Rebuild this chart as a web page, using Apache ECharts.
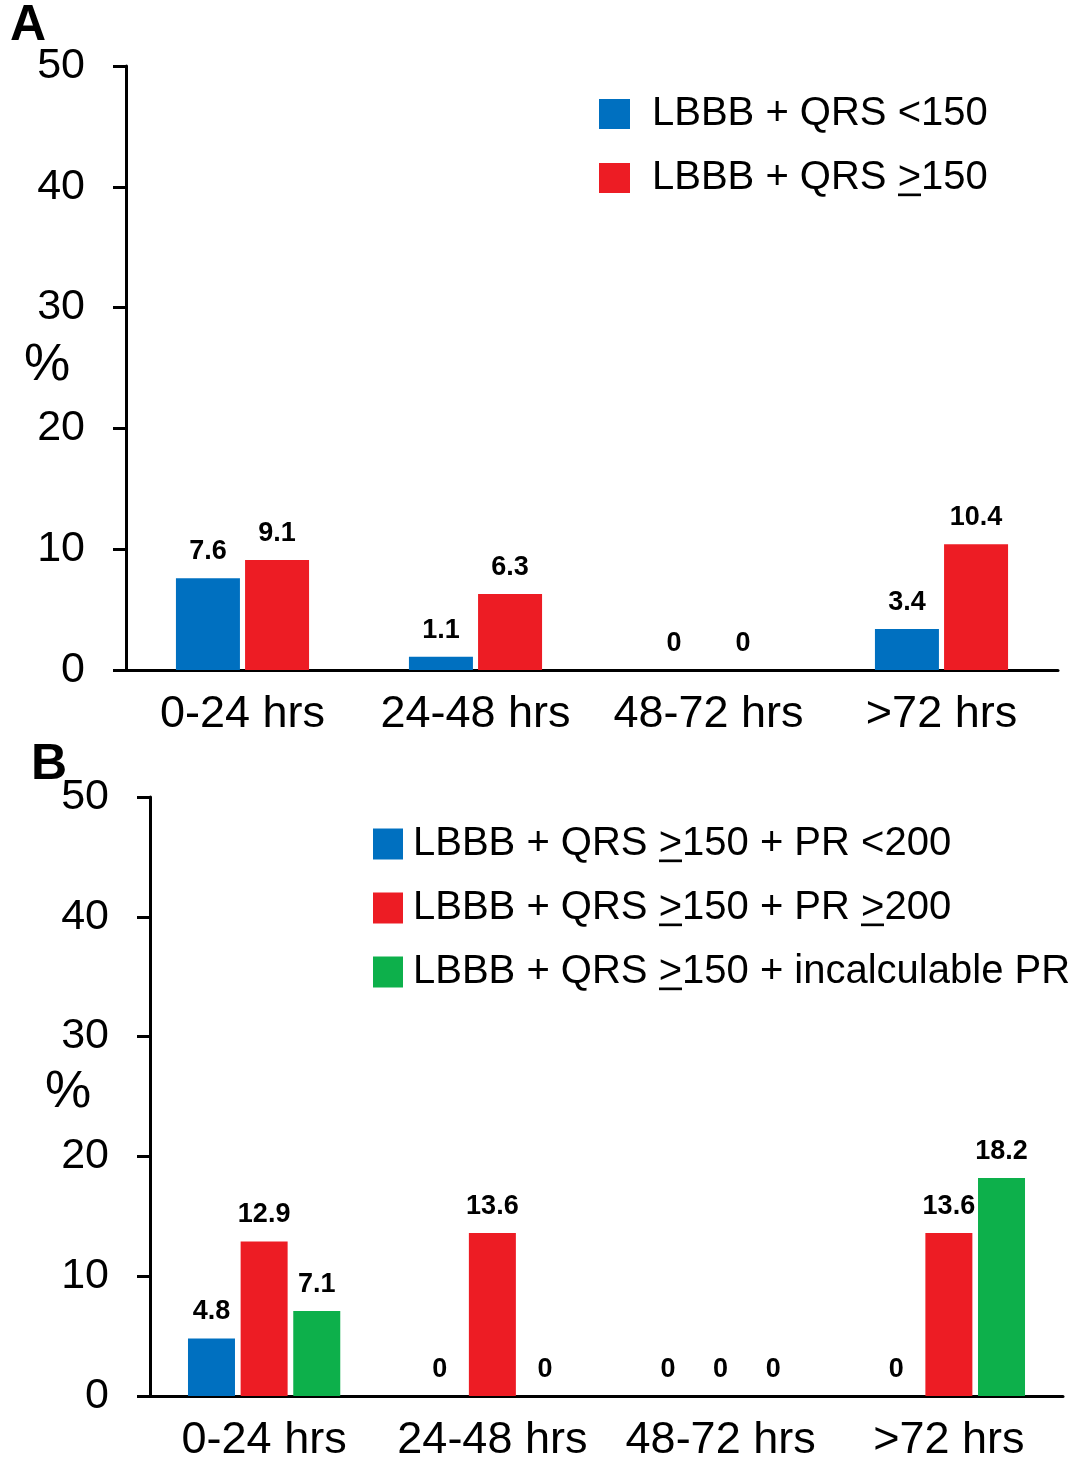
<!DOCTYPE html>
<html>
<head>
<meta charset="utf-8">
<script src="https://cdn.jsdelivr.net/npm/echarts@6/dist/echarts.min.js"></script>
<style>
html,body{margin:0;padding:0;background:#fff;}
#chart{width:1078px;height:1460px;}
</style>
</head>
<body>
<div id="chart"></div>
<script>
// ---- data ----
const categories = ['0-24 hrs', '24-48 hrs', '48-72 hrs', '>72 hrs'];
const namesA = ['LBBB + QRS <150', 'LBBB + QRS \u2265150'];
const namesB = [
  'LBBB + QRS \u2265150 + PR <200',
  'LBBB + QRS \u2265150 + PR \u2265200',
  'LBBB + QRS \u2265150 + incalculable PR'
];
const aQrsLt150 = [7.6, 1.1, 0, 3.4];
const aQrsGe150 = [9.1, 6.3, 0, 10.4];
const bPrLt200 = [4.8, 0, 0, 0];
const bPrGe200 = [12.9, 13.6, 0, 13.6];
const bPrIncalc = [7.1, 0, 0, 18.2];
const yMin = 0, yMax = 50, yStep = 10;

// ---- styles ----
const FONT = '"Liberation Sans", Arial, Helvetica, sans-serif';
const BLUE = '#0070C0', RED = '#ED1C24', GREEN = '#0DB04B';
const axisLine = { show: true, lineStyle: { color: '#000', width: 3 } };
const LEG_FS = 40, LEG_LH = 44;

// underline drawn as the background of the ">" token (">" underlined = "≥")
const ul = document.createElement('canvas');
ul.width = 8; ul.height = LEG_LH;
(function () { const c = ul.getContext('2d'); c.fillStyle = '#000'; c.fillRect(0, 39, 8, 3); })();

function xAxis(gridIndex) {
  return {
    type: 'category', gridIndex, data: categories,
    axisLine, axisTick: { show: false },
    axisLabel: { color: '#000', fontFamily: FONT, fontSize: 45, margin: 22, interval: 0, hideOverlap: false }
  };
}
function yAxis(gridIndex) {
  return {
    type: 'value', gridIndex, min: yMin, max: yMax, interval: yStep,
    axisLine, splitLine: { show: false },
    axisTick: { show: true, length: 13, lineStyle: { color: '#000', width: 3 } },
    axisLabel: { color: '#000', fontFamily: FONT, fontSize: 43, margin: 41 }
  };
}
function bar(name, data, color, idx, width, gap) {
  return {
    type: 'bar', name, data, xAxisIndex: idx, yAxisIndex: idx,
    barWidth: width, barGap: gap,
    itemStyle: { color },
    label: { show: true, position: 'top', distance: 13, color: '#000',
             fontFamily: FONT, fontSize: 27, fontWeight: 'bold' },
    emphasis: { disabled: true }, animation: false
  };
}
const legendText = (pad) => ({
  color: '#000', fontFamily: FONT, fontSize: LEG_FS, lineHeight: LEG_LH, padding: [0, 0, 0, pad],
  rich: { u: { color: '#000', fontFamily: FONT, fontSize: LEG_FS, lineHeight: LEG_LH,
               backgroundColor: { image: ul } } }
});
const legendFmt = (name) => name.replace(/\u2265/g, '{u|>}');

const chart = echarts.init(document.getElementById('chart'), null, { renderer: 'canvas' });
chart.setOption({
  backgroundColor: '#fff',
  animation: false,
  grid: [
    { left: 126, right: 20, top: 66, height: 604, outerBoundsMode: 'none', containLabel: false },
    { left: 150, right: 15, top: 797, height: 599, outerBoundsMode: 'none', containLabel: false }
  ],
  xAxis: [xAxis(0), xAxis(1)],
  yAxis: [yAxis(0), yAxis(1)],
  legend: [
    { data: namesA, orient: 'vertical', left: 599, top: 92, padding: 0, itemWidth: 31, itemHeight: 30,
      itemGap: 20, icon: 'rect', textStyle: legendText(17), formatter: legendFmt, selectedMode: false },
    { data: namesB, orient: 'vertical', left: 373, top: 822, padding: 0, itemWidth: 30, itemHeight: 31,
      itemGap: 20, icon: 'rect', textStyle: legendText(5), formatter: legendFmt, selectedMode: false }
  ],
  title: [
    { text: 'A', left: 10, top: 1, padding: 0, textStyle: { fontFamily: FONT, fontSize: 50, fontWeight: 'bold', color: '#000' } },
    { text: 'B', left: 31, top: 740, padding: 0, textStyle: { fontFamily: FONT, fontSize: 50, fontWeight: 'bold', color: '#000' } }
  ],
  graphic: [
    { type: 'text', x: 47, y: 366, style: { text: '%', fill: '#000', font: '52px ' + FONT, align: 'center', verticalAlign: 'middle' } },
    { type: 'text', x: 68, y: 1093, style: { text: '%', fill: '#000', font: '52px ' + FONT, align: 'center', verticalAlign: 'middle' } }
  ],
  series: [
    bar(namesA[0], aQrsLt150, BLUE, 0, 64, '8%'),
    bar(namesA[1], aQrsGe150, RED, 0, 64, '8%'),
    bar(namesB[0], bPrLt200, BLUE, 1, 47, '12%'),
    bar(namesB[1], bPrGe200, RED, 1, 47, '12%'),
    bar(namesB[2], bPrIncalc, GREEN, 1, 47, '12%')
  ]
});
</script>
</body>
</html>
